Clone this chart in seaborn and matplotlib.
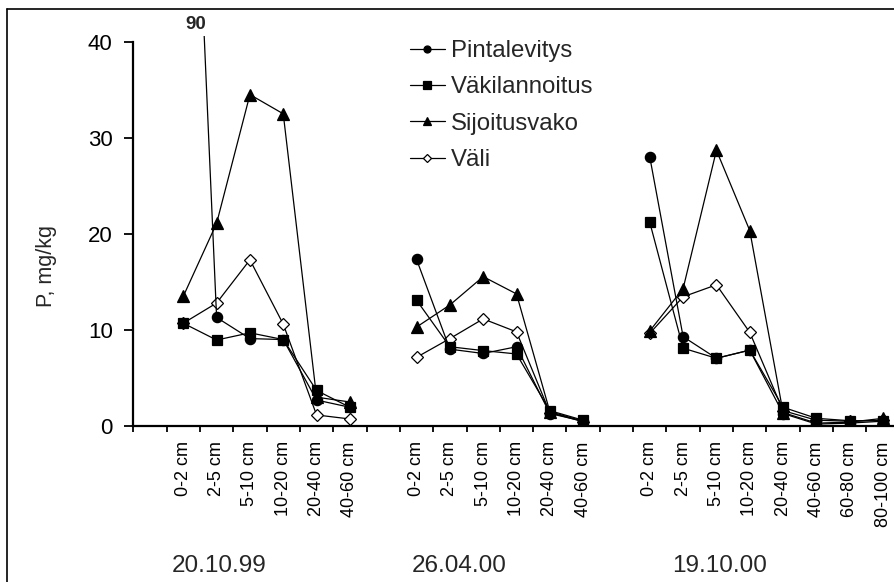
import matplotlib
matplotlib.use("Agg")
import matplotlib.pyplot as plt
import matplotlib.transforms as mtransforms
from matplotlib.lines import Line2D
import numpy as np
import pandas as pd
import seaborn as sns

# Soil depth classes and sampling dates
depths_short = ["0-2 cm", "2-5 cm", "5-10 cm", "10-20 cm", "20-40 cm", "40-60 cm"]
depths_long = depths_short + ["60-80 cm", "80-100 cm"]
dates = ["20.10.99", "26.04.00", "19.10.00"]
treatments = ["Pintalevitys", "Väkilannoitus", "Sijoitusvako", "Väli"]

# P, mg/kg  -- 20.10.99
pintalevitys_1 = [90, 11.3, 9.1, 9.0, 2.7, 1.95]
vakilannoitus_1 = [10.7, 8.95, 9.7, 9.0, 3.7, 1.95]
sijoitusvako_1 = [13.5, 21.1, 34.5, 32.5, 3.0, 2.5]
vali_1 = [10.7, 12.8, 17.3, 10.6, 1.15, 0.73]

# P, mg/kg  -- 26.04.00
pintalevitys_2 = [17.35, 8.0, 7.55, 8.25, 1.3, 0.5]
vakilannoitus_2 = [13.1, 8.25, 7.85, 7.5, 1.6, 0.6]
sijoitusvako_2 = [10.3, 12.6, 15.55, 13.75, 1.5, 0.5]
vali_2 = [7.15, 9.1, 11.15, 9.8, 1.4, 0.45]

# P, mg/kg  -- 19.10.00
pintalevitys_3 = [28.0, 9.3, 7.05, 7.9, 1.3, 0.2, 0.3, 0.5]
vakilannoitus_3 = [21.2, 8.1, 7.05, 7.9, 1.95, 0.8, 0.55, 0.55]
sijoitusvako_3 = [9.9, 14.3, 28.7, 20.35, 1.4, 0.3, 0.4, 0.8]
vali_3 = [9.65, 13.45, 14.7, 9.75, 1.6, 0.6, 0.5, 0.6]

groups = [
    (dates[0], depths_short, [pintalevitys_1, vakilannoitus_1, sijoitusvako_1, vali_1]),
    (dates[1], depths_short, [pintalevitys_2, vakilannoitus_2, sijoitusvako_2, vali_2]),
    (dates[2], depths_long, [pintalevitys_3, vakilannoitus_3, sijoitusvako_3, vali_3]),
]

# Category axis: one empty slot before each date block
rows = []
tick_pos, tick_lab = [], []
slot = 0
for date, depths, series in groups:
    slot += 1
    for i, d in enumerate(depths):
        tick_pos.append(slot + i)
        tick_lab.append(d)
        for name, vals in zip(treatments, series):
            rows.append({"date": date, "depth": d, "pos": slot + i,
                         "treatment": name, "P": vals[i]})
    slot += len(depths)
n_slots = slot
df = pd.DataFrame(rows)

sns.set_theme(style="ticks")
plt.rcParams["font.family"] = ["Liberation Sans", "DejaVu Sans"]

fig = plt.figure(figsize=(8.94, 5.82), dpi=100)
ax = fig.add_axes([133.3 / 894, 156 / 582, 766.4 / 894, 390 / 582])

styles = {
    "Väli": dict(marker="D", markersize=6.0, markerfacecolor="white", zorder=2),
    "Pintalevitys": dict(marker="o", markersize=7.4, markerfacecolor="black", zorder=3),
    "Väkilannoitus": dict(marker="s", markersize=7.8, markerfacecolor="black", zorder=4),
    "Sijoitusvako": dict(marker="^", markersize=8.4, markerfacecolor="black", zorder=5),
}

for name in ["Väli", "Pintalevitys", "Väkilannoitus", "Sijoitusvako"]:
    for date, _, _ in groups:
        sub = df[(df["treatment"] == name) & (df["date"] == date)]
        sns.lineplot(data=sub, x="pos", y="P", ax=ax, color="black",
                     markeredgecolor="black", markeredgewidth=0.9,
                     linewidth=0.9, estimator=None, sort=False, legend=False,
                     **styles[name])

# Off-scale value written above the plot
off = df[df["P"] > 40].iloc[0]
ax.text(off["pos"] + 0.38, 41.8, f"{off['P']:g}", fontsize=13.5,
        fontweight="bold", ha="center", va="center", clip_on=False)

ax.set_xlim(-0.5, n_slots - 0.5)
ax.set_ylim(0, 40.6)
ax.set_yticks([0, 10, 20, 30, 40])
ax.set_yticklabels(["0", "10", "20", "30", "40"], fontsize=16)
ax.set_xticks(np.arange(-0.5, n_slots, 1.0))
ax.set_xticklabels([])
ax.set_xticks(tick_pos, minor=True)
ax.set_xticklabels(tick_lab, minor=True, rotation=90, fontsize=13,
                   ha="center", va="top")
shift = mtransforms.ScaledTranslation(-9 / 100, 0, fig.dpi_scale_trans)
for lab in ax.get_xticklabels(minor=True):
    lab.set_transform(lab.get_transform() + shift)

ax.tick_params(axis="x", which="major", direction="out", length=4.3,
               width=1.3, color="black")
ax.tick_params(axis="x", which="minor", length=0, pad=11, colors="black")
ax.tick_params(axis="y", direction="out", length=6.3, width=1.3,
               pad=8.5, colors="black")

for side in ["top", "right"]:
    ax.spines[side].set_visible(False)
for side in ["left", "bottom"]:
    ax.spines[side].set_linewidth(1.6)
    ax.spines[side].set_color("black")
ax.spines["left"].set_bounds(0, 40)

ax.set_xlabel("")
ax.set_ylabel("P, mg/kg", fontsize=15.5, va="center")
ax.yaxis.set_label_coords((47 - 133.3) / 766.4, (426 - 266) / 390)

# Date captions under each block
date_x = [219, 459, 720]
for date, xpx in zip(dates, date_x):
    fig.text(xpx / 894, 1 - 566 / 582, date, fontsize=17.5,
             ha="center", va="center")

handles = []
for name in treatments:
    st = styles[name]
    handles.append(Line2D([], [], color="black", linewidth=0.9,
                          marker=st["marker"], markersize=st["markersize"] * 0.68,
                          markerfacecolor=st["markerfacecolor"],
                          markeredgecolor="black", markeredgewidth=0.9))
fig.legend(handles, treatments, loc="upper left",
           bbox_to_anchor=(410 / 894, 1 - 40 / 582), frameon=False,
           fontsize=17.3, handlelength=1.45, handletextpad=0.25,
           labelspacing=0.6, borderpad=0, borderaxespad=0)

# Outer frame of the chart area
fig.add_artist(Line2D([7 / 894, 7 / 894], [0, 1 - 9 / 582], color="black",
                      linewidth=1.2, transform=fig.transFigure))
fig.add_artist(Line2D([7 / 894, 1], [1 - 9 / 582, 1 - 9 / 582], color="black",
                      linewidth=1.2, transform=fig.transFigure))

fig.savefig("out.png", dpi=100)
